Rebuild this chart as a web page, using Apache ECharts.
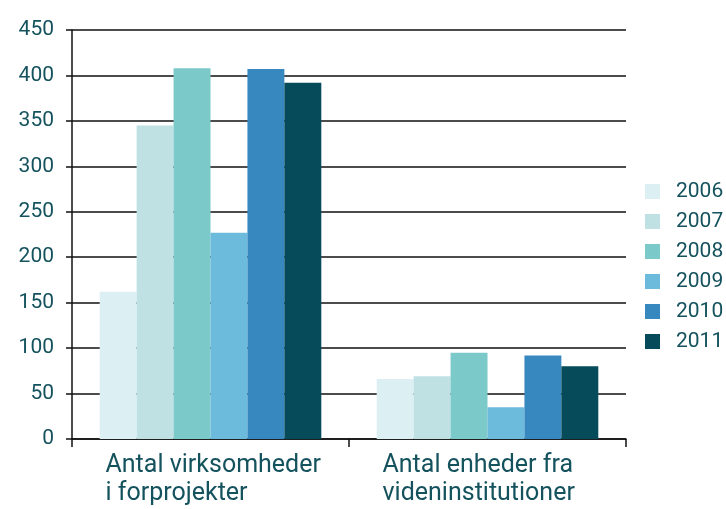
<!DOCTYPE html>
<html>
<head>
<meta charset="utf-8">
<script src="https://cdn.jsdelivr.net/npm/echarts@6/dist/echarts.min.js"></script>
<style>html,body{margin:0;padding:0;background:#fff;}#c{width:726px;height:509px;}</style>
</head>
<body>
<div id="c"></div>
<script>
var categories = ['Antal virksomheder\ni forprojekter', 'Antal enheder fra\nvideninstitutioner'];
var years = ['2006', '2007', '2008', '2009', '2010', '2011'];
var v2006 = [162, 66];
var v2007 = [345, 69];
var v2008 = [408, 95];
var v2009 = [227, 35];
var v2010 = [407, 92];
var v2011 = [392, 80];
var yTicks = [0, 50, 100, 150, 200, 250, 300, 350, 400, 450];

var seriesValues = [v2006, v2007, v2008, v2009, v2010, v2011];
var colors = ['#dcf0f3', '#bfe1e3', '#7bc9c8', '#6cbadc', '#3888c0', '#054b5a'];
var textColor = '#14525d';
var font = 'Roboto';

var chart = echarts.init(document.getElementById('c'), null, {renderer: 'canvas'});
chart.setOption({
  animation: false,
  color: colors,
  grid: {left: 72, right: 100, top: 30, bottom: 70, containLabel: false},
  legend: {
    orient: 'vertical',
    left: 640,
    top: 176,
    itemWidth: 15,
    itemHeight: 15,
    itemGap: 9,
    icon: 'rect',
    data: years,
    textStyle: {color: textColor, fontSize: 21, fontFamily: font, padding: [0, 0, 0, 11]}
  },
  xAxis: {
    type: 'category',
    data: categories,
    axisLine: {lineStyle: {color: '#111', width: 1.5}},
    axisTick: {show: true, length: 8, lineStyle: {color: '#111', width: 1.5}},
    axisLabel: {
      margin: 13,
      formatter: function (v) { return '{a|' + v.split('\n').join('}\n{a|') + '}'; },
      rich: {a: {color: textColor, fontSize: 25, fontFamily: font, lineHeight: 28, align: 'left', width: 210}}
    }
  },
  yAxis: {
    type: 'value',
    min: 0,
    max: 450,
    interval: 50,
    axisLine: {show: true, lineStyle: {color: '#111', width: 1.5}},
    axisTick: {show: true, length: 6, lineStyle: {color: '#111', width: 1.5}},
    axisLabel: {
      margin: 18,
      color: textColor,
      fontSize: 21,
      fontFamily: font,
      formatter: function (v) { return yTicks.indexOf(v) >= 0 ? String(v) : ''; }
    },
    splitLine: {show: true, lineStyle: {color: '#111', width: 1.5}}
  },
  series: years.map(function (y, i) {
    return {
      name: y,
      type: 'bar',
      data: seriesValues[i],
      barGap: '0%',
      barCategoryGap: '20%'
    };
  })
});
</script>
</body>
</html>
